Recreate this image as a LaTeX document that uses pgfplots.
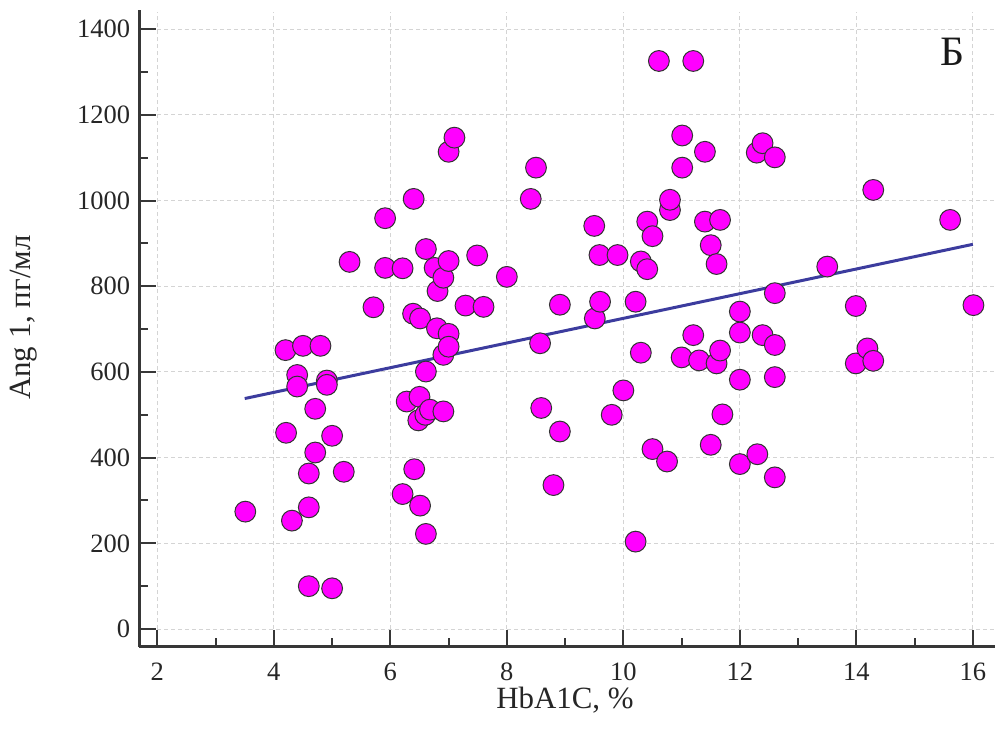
\documentclass[border=0pt]{standalone}
\usepackage{pgfplots}
\pgfplotsset{compat=1.18}
\usepackage{fontspec}
\setmainfont{Liberation Serif}
\definecolor{ptfill}{RGB}{255,0,255}
\definecolor{regline}{RGB}{60,60,158}
\definecolor{axgray}{RGB}{55,55,55}
\definecolor{gridgray}{RGB}{212,212,212}
\begin{document}
\begin{tikzpicture}
\begin{axis}[
  scale only axis, width=427.85bp, height=318.35bp,
  xmin=1.69, xmax=16.38, ymin=-41.3, ymax=1445,
  axis x line=bottom, axis y line=left,
  axis line style={-, line width=1.6bp, color=axgray},
  xtick={2,4,...,16}, minor xtick={3,5,...,15},
  ytick={0,200,...,1400}, minor ytick={100,300,...,1300},
  tick align=inside,
  major tick length=8.5bp, minor tick length=4.5bp,
  tick style={axgray, line width=1bp},
  /pgf/number format/assume math mode=true,
  /pgf/number format/set thousands separator={},
  tick label style={font=\fontsize{13.3}{16}\selectfont, text=black!85},
  yticklabel style={xshift=-1.1bp},
  xticklabel style={yshift=-4.8bp},
  xlabel={HbA1C, \%}, ylabel={Ang 1, пг/мл},
  label style={font=\fontsize{15.5}{18}\selectfont, text=black!85},
  xlabel style={at={(axis description cs:0.4975,0)}, anchor=base, yshift=-31bp},
  ylabel style={at={(axis description cs:-0.1347,0.517)}, anchor=center},
]
\pgfplotsinvokeforeach{2,4,...,16}{
  \draw[gridgray, dash pattern=on 2bp off 1.5bp, line width=0.5bp] (axis cs:#1,0) -- (axis cs:#1,1440);
}
\pgfplotsinvokeforeach{0,200,...,1400}{
  \draw[gridgray, dash pattern=on 2bp off 1.5bp, line width=0.5bp] (axis cs:2,#1) -- (axis cs:16.38,#1);
}
\addplot[only marks, mark=*, mark size=5.2bp,
  mark options={fill=ptfill, draw=black!80, line width=0.5bp}] table {
x y
3.51 274
4.20 651
4.21 458
4.31 253
4.40 593
4.40 566
4.50 661
4.60 100
4.60 284
4.60 363
4.71 412
4.71 514
4.80 661
4.91 580
4.91 570
5.00 95
5.00 451
5.20 367
5.30 857
5.71 751
5.91 959
5.91 843
6.21 842
6.21 315
6.28 531
6.40 1004
6.39 736
6.41 373
6.51 725
6.50 542
6.48 487
6.51 288
6.61 887
6.61 601
6.60 500
6.61 222
6.68 512
6.76 843
6.81 789
6.80 702
6.91 820
6.91 640
6.91 508
7.00 1114
7.00 859
7.00 689
7.00 659
7.10 1147
7.29 755
7.49 872
7.60 752
8.00 822
8.41 1004
8.50 1077
8.57 667
8.59 516
8.80 336
8.91 757
8.91 461
9.50 941
9.51 725
9.59 873
9.60 764
9.80 500
9.90 873
10.00 557
10.21 764
10.21 204
10.30 858
10.30 645
10.41 951
10.41 840
10.50 917
10.50 420
10.61 1326
10.75 391
10.80 978
10.80 1002
11.01 1152
11.01 1077
11.00 634
11.20 1326
11.20 686
11.30 627
11.40 1114
11.40 951
11.50 896
11.50 430
11.66 955
11.60 852
11.60 620
11.66 650
11.70 501
12.00 741
12.00 692
12.00 582
12.00 385
12.29 1112
12.30 408
12.39 1134
12.39 686
12.60 1101
12.60 784
12.60 663
12.60 588
12.60 354
13.50 846
13.99 754
13.99 620
14.19 655
14.29 1025
14.29 626
15.61 955
16.01 756
};
\addplot[regline, line width=1.5bp] coordinates {(3.5,538) (16.0,898)};
\node[font=\fontsize{21}{24}\selectfont, text=black!90] at (axis cs:15.65,1348) {Б};
\end{axis}
\pgfresetboundingbox
\path[use as bounding box] (-69.65bp,-43.65bp) rectangle (427.85bp,323.35bp);
\end{tikzpicture}
\end{document}
